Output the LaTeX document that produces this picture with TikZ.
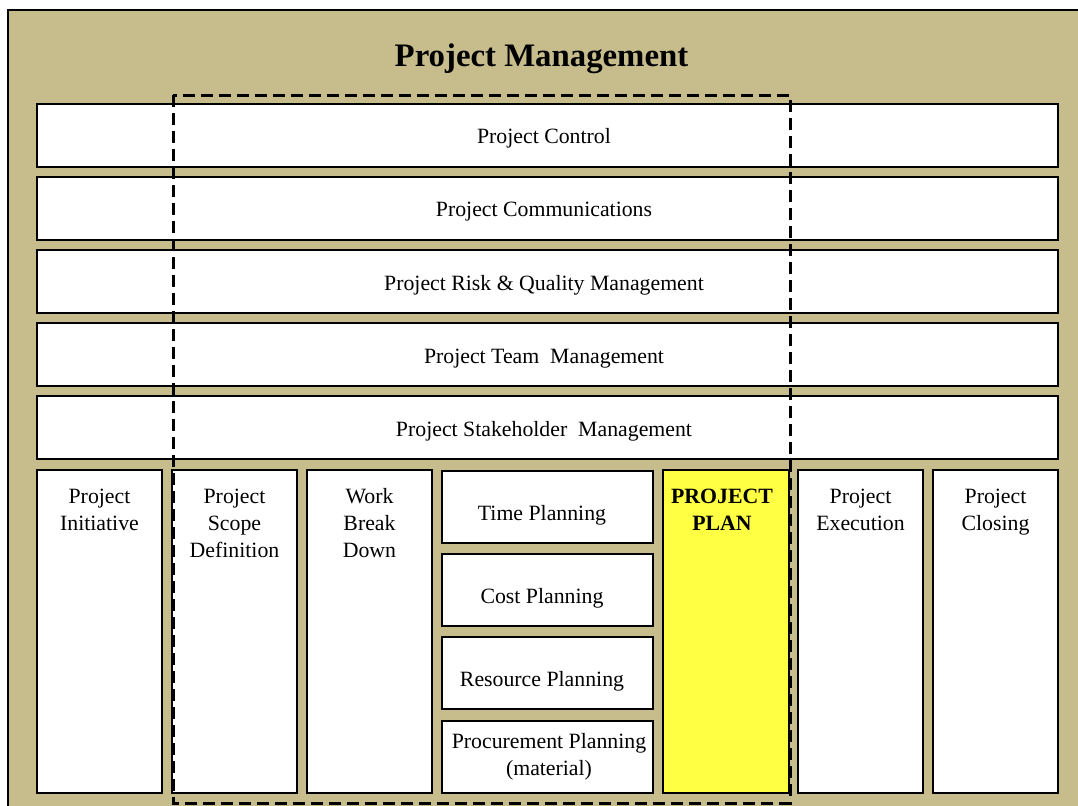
\documentclass[tikz,border=0pt]{standalone}
\usepackage{fontspec}
\setmainfont{Liberation Serif}
\usetikzlibrary{positioning}

\definecolor{pmtan}{HTML}{C7BD8C}
\definecolor{planyellow}{HTML}{FFFF44}

\tikzset{
  box/.style={draw, line width=0.75pt, fill=white, inner sep=0pt},
  bar/.style={box, minimum width=510.5pt, minimum height=31.5pt},
  col/.style={box, minimum width=62.5pt, minimum height=161.5pt},
  sub/.style={box, minimum width=105.5pt, minimum height=36pt},
  txt/.style={anchor=base, align=center, inner sep=0pt, font=\fontsize{10.9}{13.4}\selectfont},
}

\begin{document}
\begin{tikzpicture}[x=0.5pt, y=-0.5pt]
\useasboundingbox (0,0) rectangle (1078,805);
\clip (0,0) rectangle (1078,805);

% background frame
\draw[fill=pmtan, line width=0.6pt] (8,10) rectangle (1110,830);
\node[anchor=base, inner sep=0pt, font=\fontsize{16.4}{20}\selectfont\bfseries] (title) at (541.5,66.7) {Project Management};

% horizontal bars
\def\bx{547.5}
\node[bar] (ctrl) at (\bx,135.5) {};
\node[bar] (comm) at (\bx,208.5) {};
\node[bar] (risk) at (\bx,281.5) {};
\node[bar] (team) at (\bx,354.5) {};
\node[bar] (stake) at (\bx,427.5) {};

\node[txt] (ctrlT) at (544,143) {Project Control};
\node[txt] (commT) at (544,216) {Project Communications};
\node[txt] (riskT) at (544,290) {Project Risk \& Quality Management};
\node[txt] (teamT) at (544,363) {Project Team\ \ Management};
\node[txt] (stakeT) at (544,436) {Project Stakeholder\ \ Management};

% columns
\def\cy{631.5}
\node[col] (init) at (99.5,\cy) {};
\node[col] (scope) at (234.5,\cy) {};
\node[col] (wbd) at (369.5,\cy) {};
\node[col, fill=planyellow, minimum width=63pt] (plan) at (726,\cy) {};
\node[col] (exec) at (860.5,\cy) {};
\node[col] (close) at (995.5,\cy) {};

% base = last line
\def\ty{530}
\node[txt] (initT) at (99.5,\ty) {Project\\Initiative};
\node[txt] (scopeT) at (234.5,\ty+27) {Project\\Scope\\Definition};
\node[txt] (wbdT) at (369.5,\ty+27) {Work\\Break\\Down};
\node[txt, font=\fontsize{10.9}{13.4}\selectfont\bfseries] (planT) at (722,\ty) {PROJECT\\PLAN};
\node[txt] (execT) at (860.5,\ty) {Project\\Execution};
\node[txt] (closeT) at (995.5,\ty) {Project\\Closing};

% planning boxes
\def\px{547.5}
\node[sub] (time) at (\px,507) {};
\node[sub] (cost) at (\px,590) {};
\node[sub] (res) at (\px,673) {};
\node[sub] (proc) at (\px,757) {};

\node[txt] (timeT) at (542,520) {Time Planning};
\node[txt] (costT) at (542,603) {Cost Planning};
\node[txt] (resT) at (542,686.5) {Resource Planning};
\node[txt] (procT) at (549,775) {Procurement Planning\\(material)};

% dashed scope of the plan
\draw[line width=1.5pt, dash pattern=on 6pt off 3pt] (173,95) rectangle (790,803);
\end{tikzpicture}
\end{document}
